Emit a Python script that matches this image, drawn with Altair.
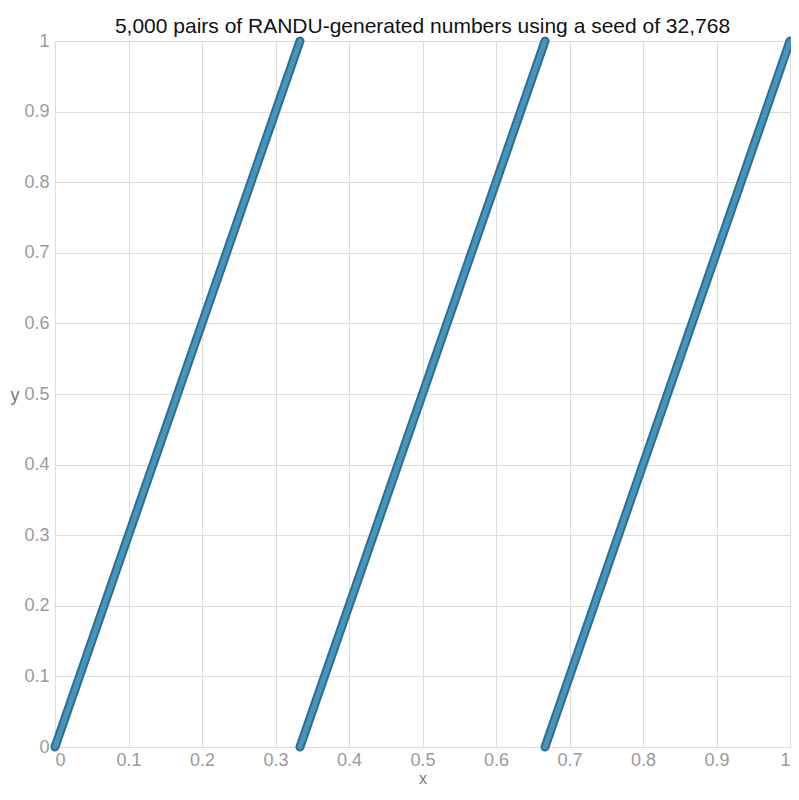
import altair as alt
import pandas as pd

# Three bands of RANDU pairs: each band runs from (x_start, 0) to (x_end, 1)
band = ["a", "a", "b", "b", "c", "c"]
xs = [0.0, 0.3333, 0.3333, 0.6667, 0.6667, 1.0]
ys = [0.0, 1.0, 0.0, 1.0, 0.0, 1.0]

df = pd.DataFrame({"band": band, "x": xs, "y": ys})

ticks = [0, 0.1, 0.2, 0.3, 0.4, 0.5, 0.6, 0.7, 0.8, 0.9, 1]
lab = "datum.value == 0 ? '0' : datum.value == 1 ? '1' : format(datum.value, '.1f')"

xenc = alt.X("x:Q", scale=alt.Scale(domain=[0, 1], nice=False),
             axis=alt.Axis(values=ticks, title="x", grid=True, ticks=False,
                           labelPadding=4, titleBaseline="alphabetic", titleY=36,
                           titleFontSize=16, labelExpr=lab))
yenc = alt.Y("y:Q", scale=alt.Scale(domain=[0, 1], nice=False),
             axis=alt.Axis(values=ticks, title="y", grid=True, ticks=False,
                           labelPadding=6, titleAngle=0, titleAlign="right",
                           titleBaseline="middle", titleX=-36, titleY=354, labelExpr=lab))

outer = alt.Chart(df).mark_line(color="#2c6f8e", strokeWidth=9, strokeCap="round").encode(
    x=xenc, y=yenc, detail="band:N")
inner = alt.Chart(df).mark_line(color="#4a98c4", strokeWidth=5, strokeCap="round", opacity=0.9).encode(
    x="x:Q", y="y:Q", detail="band:N")

chart = (outer + inner).properties(
    width=735, height=706,
    title=alt.TitleParams("5,000 pairs of RANDU-generated numbers using a seed of 32,768",
                          fontSize=21, font="Liberation Sans", fontWeight="normal",
                          color="#111111", anchor="middle", offset=5, dy=19),
    autosize=alt.AutoSizeParams(type="none"),
    padding={"left": 47, "top": 33, "right": 1, "bottom": 40},
).configure_axis(
    labelFont="Liberation Sans", labelFontSize=18, labelColor="#9a9a9a",
    titleFont="Liberation Sans", titleFontSize=18, titleColor="#777777", titleFontWeight="normal",
    gridColor="#dddddd", gridWidth=1, domainColor="#dddddd", domainWidth=1,
).configure_view(stroke="#e6e6e6")

chart.save("out.html", embed_options={"renderer": "svg", "actions": False})
